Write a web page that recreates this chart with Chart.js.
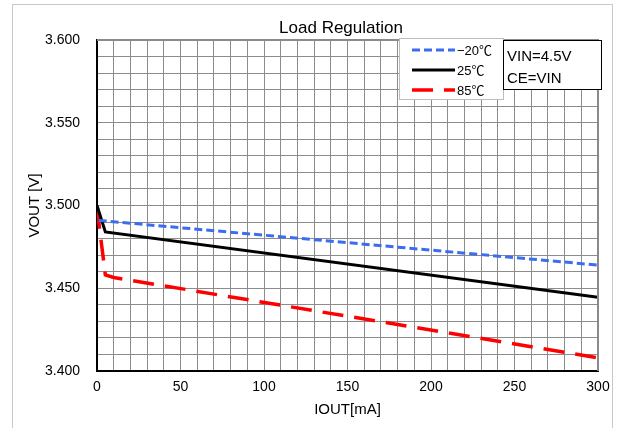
<!DOCTYPE html>
<html>
<head>
<meta charset="utf-8">
<script src="https://cdn.jsdelivr.net/npm/chart.js@4/dist/chart.umd.min.js"></script>
<style>
  html, body { margin: 0; padding: 0; background: #fff; }
  #wrap { width: 629px; height: 428px; }
</style>
</head>
<body>
<div id="wrap"><canvas id="graph"></canvas></div>
<script>
// data
const seriesLabels = ["\u221220\u2103", "25\u2103", "85\u2103"];
const ioutCold = [1, 300];
const voutCold = [3.491, 3.464];
const ioutRoom = [0, 5, 300];
const voutRoom = [3.500, 3.484, 3.4445];
const ioutHot = [0, 5, 10, 300];
const voutHot = [3.4985, 3.458, 3.4565, 3.408];
const xTickLabels = [0, 50, 100, 150, 200, 250, 300];
const yTickLabels = [3.400, 3.450, 3.500, 3.550, 3.600];
const noteLines = ["VIN=4.5V", "CE=VIN"];

function toPoints(xs, ys) {
  return xs.map((x, i) => ({ x: x, y: ys[i] }));
}

const FONT = "'Liberation Sans', Arial, 'Noto Sans CJK JP', sans-serif";

// frame, title, legend and condition box
const decorPlugin = {
  id: "decor",
  beforeDraw(chart) {
    const ctx = chart.ctx;
    ctx.save();
    ctx.fillStyle = "#fff";
    ctx.fillRect(0, 0, chart.width, chart.height);
    ctx.strokeStyle = "#c8c8c8";
    ctx.lineWidth = 1;
    ctx.strokeRect(12.5, 4.5, 600, 440);
    ctx.restore();
  },
  afterDraw(chart) {
    const ctx = chart.ctx;
    const area = chart.chartArea;
    ctx.save();
    // top / right border of the plot
    ctx.strokeStyle = "#8a8a8a";
    ctx.lineWidth = 2;
    ctx.beginPath();
    ctx.moveTo(area.left, area.top);
    ctx.lineTo(area.right, area.top);
    ctx.lineTo(area.right, area.bottom);
    ctx.stroke();

    // title
    ctx.fillStyle = "#000";
    ctx.font = "17px " + FONT;
    ctx.textAlign = "center";
    ctx.textBaseline = "middle";
    ctx.fillText("Load Regulation", 341, 28);

    // legend box
    ctx.fillStyle = "#fff";
    ctx.fillRect(399, 38, 104, 61);
    ctx.strokeStyle = "#bdbdbd";
    ctx.lineWidth = 1;
    ctx.strokeRect(399.5, 38.5, 104, 61);
    chart.data.datasets.forEach((ds, i) => {
      const y = 50 + i * 20;
      ctx.strokeStyle = ds.borderColor;
      ctx.lineWidth = ds.borderWidth;
      ctx.setLineDash(ds.borderDash || []);
      ctx.beginPath();
      ctx.moveTo(412, y);
      ctx.lineTo(455, y);
      ctx.stroke();
      ctx.setLineDash([]);
      ctx.fillStyle = "#000";
      ctx.font = "13px " + FONT;
      ctx.textAlign = "left";
      ctx.fillText(ds.label, 457, y + 1);
    });

    // condition box
    ctx.fillStyle = "#fff";
    ctx.fillRect(503, 40, 98, 49);
    ctx.strokeStyle = "#000";
    ctx.lineWidth = 1;
    ctx.strokeRect(503.5, 40.5, 98, 49);
    ctx.fillStyle = "#000";
    ctx.font = "15px " + FONT;
    ctx.textAlign = "left";
    noteLines.forEach((t, i) => ctx.fillText(t, 507, 57 + i * 22));
    ctx.restore();
  }
};

const gridStyle = {
  color: "#8c8c8c",
  lineWidth: 1,
  drawTicks: false
};

new Chart(document.getElementById("graph"), {
  type: "line",
  data: {
    datasets: [
      {
        label: seriesLabels[0],
        data: toPoints(ioutCold, voutCold),
        borderColor: "#3c6cf0",
        borderWidth: 3,
        borderDash: [8, 4],
        pointRadius: 0,
        fill: false
      },
      {
        label: seriesLabels[1],
        data: toPoints(ioutRoom, voutRoom),
        borderColor: "#000000",
        borderWidth: 3,
        pointRadius: 0,
        fill: false
      },
      {
        label: seriesLabels[2],
        data: toPoints(ioutHot, voutHot),
        borderColor: "#ff0000",
        borderWidth: 3.5,
        borderDash: [21, 11],
        pointRadius: 0,
        fill: false
      }
    ]
  },
  options: {
    responsive: true,
    maintainAspectRatio: false,
    animation: false,
    layout: { padding: { left: 0, right: 31, top: 40, bottom: 0 } },
    plugins: {
      legend: { display: false },
      title: { display: false },
      tooltip: { enabled: false }
    },
    scales: {
      x: {
        type: "linear",
        min: 0,
        max: 300,
        grid: gridStyle,
        border: { color: "#000", width: 2 },
        ticks: {
          stepSize: 10,
          autoSkip: false,
          maxRotation: 0,
          padding: 8,
          color: "#000",
          font: { size: 14, family: FONT },
          callback: v => (xTickLabels.includes(v) ? String(v) : "")
        },
        title: {
          display: true,
          text: "IOUT[mA]",
          color: "#000",
          font: { size: 15, family: FONT },
          padding: { top: 0, bottom: 9 }
        },
        afterFit: scale => { scale.height = 57; }
      },
      y: {
        type: "linear",
        min: 3.4,
        max: 3.6,
        grid: gridStyle,
        border: { color: "#000", width: 2 },
        ticks: {
          stepSize: 0.01,
          autoSkip: false,
          padding: 17,
          color: "#000",
          font: { size: 14, family: FONT },
          callback: v => {
            const hit = yTickLabels.find(t => Math.abs(t - v) < 1e-6);
            return hit !== undefined ? hit.toFixed(3) : "";
          }
        },
        title: {
          display: true,
          text: "VOUT [V]",
          color: "#000",
          font: { size: 15, family: FONT },
          padding: { top: 26, bottom: 0 }
        },
        afterFit: scale => { scale.width = 97; }
      }
    }
  },
  plugins: [decorPlugin]
});
</script>
</body>
</html>
